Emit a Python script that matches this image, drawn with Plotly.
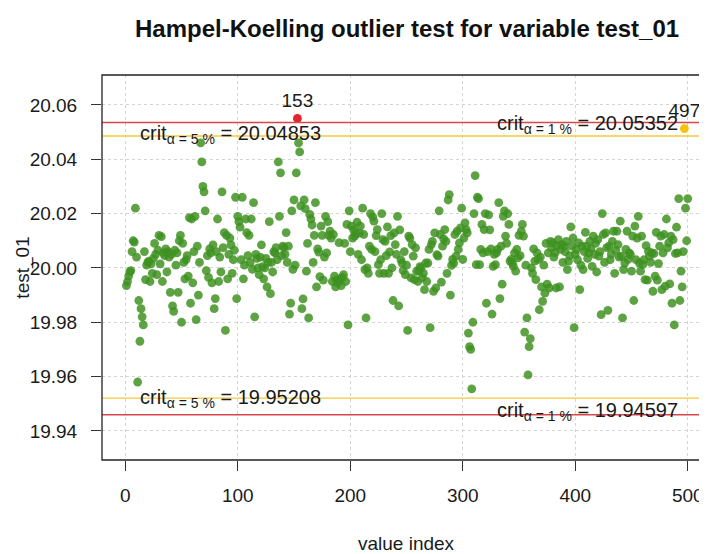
import plotly.graph_objects as go

title_text = "Hampel-Koelling outlier test for variable test_01"
x_label = "value index"
y_label = "test_01"

row01 = [19.9935, 19.9950, 19.9970, 19.9985, 19.9990, 20.0060, 20.0100, 20.0095, 20.0220, 20.0040, 19.9580, 19.9880, 19.9730, 19.9850, 19.9820, 19.9790, 20.0060, 19.9957, 20.0010, 20.0020]
row02 = [20.0025, 19.9950, 20.0015, 19.9980, 20.0035, 20.0090, 20.0050, 19.9975, 20.0065, 20.0120, 20.0015, 20.0115, 19.9950, 20.0055, 20.0045, 20.0070, 19.9985, 20.0060, 20.0040, 19.9910]
row03 = [20.0050, 19.9860, 19.9840, 20.0065, 20.0010, 20.0055, 19.9910, 20.0100, 20.0120, 19.9800, 20.0090, 20.0020, 19.9960, 20.0030, 20.0045, 19.9970, 20.0185, 19.9870, 20.0180, 19.9945]
row04 = [20.0060, 20.0190, 19.9810, 20.0080, 19.9900, 20.0020, 20.0460, 20.0390, 20.0300, 20.0280, 20.0210, 19.9990, 20.0045, 19.9965, 20.0070, 20.0055, 19.9945, 20.0085, 19.9850, 19.9887]
row05 = [20.0060, 20.0180, 19.9950, 20.0040, 19.9985, 20.0280, 20.0075, 20.0130, 19.9770, 20.0120, 19.9960, 20.0050, 20.0110, 20.0085, 19.9980, 20.0030, 20.0065, 20.0260, 19.9887, 20.0190]
row06 = [20.0170, 20.0150, 20.0030, 20.0260, 19.9960, 20.0010, 20.0180, 20.0130, 20.0045, 20.0120, 20.0020, 20.0180, 19.9995, 20.0240, 19.9820, 20.0050, 20.0035, 20.0000, 19.9975, 20.0040]
row07 = [20.0085, 20.0005, 19.9960, 20.0000, 20.0035, 19.9930, 20.0020, 20.0170, 19.9905, 20.0020, 19.9985, 20.0060, 20.0055, 20.0075, 20.0030, 20.0390, 20.0190, 20.0350, 20.0045, 20.0080]
row08 = [20.0075, 20.0050, 20.0130, 20.0020, 20.0080, 19.9830, 19.9870, 20.0210, 19.9995, 20.0250, 20.0010, 20.0350, 20.0550, 20.0460, 20.0427, 20.0228, 19.9850, 19.9886, 20.0250, 20.0218]
row09 = [19.9988, 20.0090, 19.9816, 20.0197, 20.0180, 20.0158, 20.0020, 20.0120, 20.0240, 19.9930, 20.0070, 20.0058, 19.9968, 20.0154, 20.0120, 19.9955, 20.0040, 20.0190, 20.0055, 20.0170]
row10 = [20.0120, 20.0135, 20.0110, 19.9950, 20.0123, 19.9970, 19.9930, 19.9955, 19.9945, 20.0093, 19.9960, 19.9935, 19.9965, 19.9975, 20.0090, 19.9950, 20.0160, 19.9790, 20.0210, 20.0060]
row11 = [20.0154, 20.0110, 20.0140, 20.0117, 20.0128, 20.0168, 20.0050, 20.0128, 20.0154, 20.0030, 20.0220, 20.0123, 19.9994, 19.9816, 20.0000, 19.9980, 20.0080, 20.0200, 20.0068, 20.0188]
row12 = [20.0172, 20.0060, 20.0119, 20.0141, 20.0012, 19.9980, 20.0030, 20.0200, 20.0104, 19.9980, 20.0098, 20.0045, 20.0151, 19.9980, 20.0059, 20.0119, 20.0000, 19.9880, 20.0129, 20.0086]
row13 = [20.0050, 20.0190, 19.9860, 20.0140, 20.0030, 20.0018, 19.9990, 20.0060, 19.9975, 20.0010, 19.9770, 20.0117, 20.0110, 19.9963, 20.0086, 20.0043, 19.9957, 20.0074, 19.9988, 19.9950]
row14 = [19.9988, 20.0005, 20.0000, 19.9963, 19.9980, 19.9920, 20.0018, 19.9950, 20.0018, 20.0068, 19.9780, 20.0086, 20.0098, 19.9914, 20.0129, 19.9926, 20.0049, 20.0043, 20.0210, 20.0123]
row15 = [19.9948, 20.0080, 20.0107, 20.0141, 20.0098, 19.9980, 20.0250, 20.0270, 19.9900, 20.0009, 20.0031, 20.0018, 20.0123, 20.0043, 20.0135, 20.0068, 20.0092, 20.0147, 20.0220, 20.0031]
row16 = [20.0110, 20.0166, 20.0141, 20.0129, 19.9760, 19.9710, 19.9700, 19.9555, 19.9800, 20.0200, 20.0340, 20.0012, 20.0260, 20.0255, 20.0012, 20.0068, 20.0160, 20.0055, 20.0141, 20.0200]
row17 = [19.9870, 20.0060, 20.0195, 20.0140, 20.0070, 19.9830, 20.0006, 20.0050, 20.0012, 20.0055, 20.0068, 20.0240, 19.9887, 20.0080, 19.9940, 20.0190, 20.0210, 20.0117, 20.0090, 20.0200]
row18 = [20.0160, 20.0025, 20.0031, 20.0018, 20.0006, 20.0055, 19.9988, 20.0068, 20.0037, 20.0120, 20.0045, 20.0135, 20.0160, 20.0117, 19.9764, 20.0010, 19.9816, 19.9606, 19.9710, 19.9740]
row19 = [20.0000, 19.9980, 20.0070, 20.0025, 19.9957, 20.0055, 20.0031, 19.9846, 20.0040, 19.9930, 19.9877, 20.0010, 19.9907, 20.0090, 19.9940, 20.0055, 19.9926, 20.0098, 20.0074, 20.0092]
row20 = [20.0040, 20.0055, 19.9926, 20.0080, 20.0104, 19.9930, 20.0068, 20.0086, 20.0020, 20.0080, 20.0060, 20.0098, 19.9994, 20.0025, 20.0045, 20.0151, 20.0080, 20.0110, 19.9780, 20.0050]
row21 = [20.0068, 20.0030, 20.0092, 19.9920, 20.0010, 20.0080, 19.9994, 20.0060, 20.0131, 20.0080, 20.0035, 20.0055, 20.0098, 20.0070, 20.0006, 20.0117, 20.0050, 20.0090, 19.9985, 20.0104]
row22 = [20.0043, 20.0060, 19.9828, 20.0200, 20.0123, 20.0020, 20.0129, 20.0075, 19.9844, 20.0080, 20.0030, 20.0050, 20.0098, 20.0135, 19.9980, 20.0065, 20.0135, 20.0086, 20.0040, 20.0172]
row23 = [20.0043, 19.9816, 19.9994, 20.0018, 20.0068, 20.0135, 20.0031, 20.0055, 20.0049, 19.9988, 20.0117, 19.9880, 20.0154, 20.0030, 20.0110, 20.0190, 20.0018, 19.9988, 20.0117, 20.0012]
row24 = [20.0030, 19.9957, 20.0082, 19.9955, 20.0061, 20.0043, 20.0020, 20.0055, 19.9914, 20.0053, 19.9970, 20.0131, 19.9955, 20.0016, 20.0080, 20.0117, 19.9920, 20.0055, 20.0123, 19.9933]
row25 = [20.0180, 20.0074, 20.0092, 19.9941, 20.0117, 19.9870, 20.0104, 19.9790, 20.0053, 20.0150, 20.0055, 20.0255, 19.9880, 19.9988, 19.9930, 20.0060, 20.0513, 20.0220, 20.0100, 20.0255]

values = (row01 + row02 + row03 + row04 + row05 + row06 + row07 + row08 + row09 + row10
          + row11 + row12 + row13 + row14 + row15 + row16 + row17 + row18 + row19 + row20
          + row21 + row22 + row23 + row24 + row25)
index = list(range(1, len(values) + 1))

outlier_index = [153, 497]
outlier_colors = ["#e3242b", "#f7c20e"]

crit_levels = ["5 %", "1 %"]
crit_upper = [20.04853, 20.05352]
crit_lower = [19.95208, 19.94597]
crit_colors = ["#f5c838", "#d9464a"]

x_ticks = [0, 100, 200, 300, 400, 500]
y_ticks = [19.94, 19.96, 19.98, 20.00, 20.02, 20.04, 20.06]
y_tick_text = ["19.94", "19.96", "19.98", "20.00", "20.02", "20.04", "20.06"]

FONT = "Liberation Sans, Arial, sans-serif"
TXT = "#1a1a1a"

normal_x = [i for i in index if i not in outlier_index]
normal_y = [values[i - 1] for i in normal_x]

fig = go.Figure()
fig.add_trace(go.Scatter(
    x=normal_x, y=normal_y, mode="markers",
    marker=dict(size=8.8, color="rgba(62,145,32,0.84)", line=dict(width=0)),
    hoverinfo="x+y", showlegend=False))
for i, c in zip(outlier_index, outlier_colors):
    fig.add_trace(go.Scatter(
        x=[i], y=[values[i - 1]], mode="markers+text",
        marker=dict(size=8.8, color=c, line=dict(width=0)),
        text=[str(i)], textposition="top center",
        textfont=dict(family=FONT, size=19, color=TXT),
        showlegend=False, cliponaxis=False))

# critical lines
for val, col in zip(crit_upper + crit_lower, crit_colors + crit_colors):
    fig.add_shape(type="line", xref="paper", x0=0, x1=1, yref="y", y0=val, y1=val,
                  line=dict(color=col, width=1.4), layer="above")

# crit labels
label_pos = [(11.5, crit_upper[0], 2), (329, crit_upper[1], -2),
             (11.5, crit_lower[0], 0), (329, crit_lower[1], 3)]
label_vals = [crit_upper[0], crit_upper[1], crit_lower[0], crit_lower[1]]
label_alpha = [crit_levels[0], crit_levels[1], crit_levels[0], crit_levels[1]]
for (lx, ly, ys), v, a in zip(label_pos, label_vals, label_alpha):
    fig.add_annotation(x=lx, y=ly, xref="x", yref="y", xanchor="left", yanchor="middle",
                       yshift=ys, showarrow=False,
                       text="crit<sub>\u03b1 = " + a + "</sub> = " + f"{v:.5f}",
                       font=dict(family=FONT, size=20, color=TXT))

# frame
fig.add_shape(type="rect", xref="paper", yref="paper", x0=0, x1=1.03, y0=0, y1=1,
              line=dict(color="#222222", width=1.3), layer="above")

fig.add_annotation(text="<b>" + title_text + "</b>", xref="paper", yref="paper",
                   x=0.504, y=1.122, xanchor="center", yanchor="middle", showarrow=False,
                   font=dict(family=FONT, size=24, color="#111111"))
fig.add_annotation(text=x_label, xref="paper", yref="paper", x=0.504, y=-0.216,
                   xanchor="center", yanchor="middle", showarrow=False,
                   font=dict(family=FONT, size=19, color=TXT))
fig.add_annotation(text=y_label, xref="paper", yref="paper", x=-0.132, y=0.5,
                   xanchor="center", yanchor="middle", textangle=-90, showarrow=False,
                   font=dict(family=FONT, size=19, color=TXT))

# page has an 8px body margin, so the figure is drawn 8px smaller and offset
fig.update_layout(
    width=699, height=546,
    margin=dict(l=94, r=0, t=67, b=94),
    paper_bgcolor="white", plot_bgcolor="white",
    font=dict(family=FONT, color=TXT),
    showlegend=False,
)
fig.update_xaxes(range=[-20.7, 517.1], tickvals=x_ticks, ticktext=[str(t) for t in x_ticks],
                 ticks="outside", ticklen=10, tickwidth=1.2, tickcolor="#333333",
                 showline=False, zeroline=False, automargin=False,
                 showgrid=True, gridcolor="#d4d4d4", griddash="dot", gridwidth=1,
                 tickfont=dict(family=FONT, size=19, color=TXT), ticklabelstandoff=8)
fig.update_yaxes(range=[19.9293, 20.0710], tickvals=y_ticks, ticktext=y_tick_text,
                 ticks="outside", ticklen=10, tickwidth=1.2, tickcolor="#333333",
                 showline=False, zeroline=False, automargin=False,
                 showgrid=True, gridcolor="#d4d4d4", griddash="dot", gridwidth=1,
                 tickfont=dict(family=FONT, size=19, color=TXT), ticklabelstandoff=10)

fig.write_html("out.html")
